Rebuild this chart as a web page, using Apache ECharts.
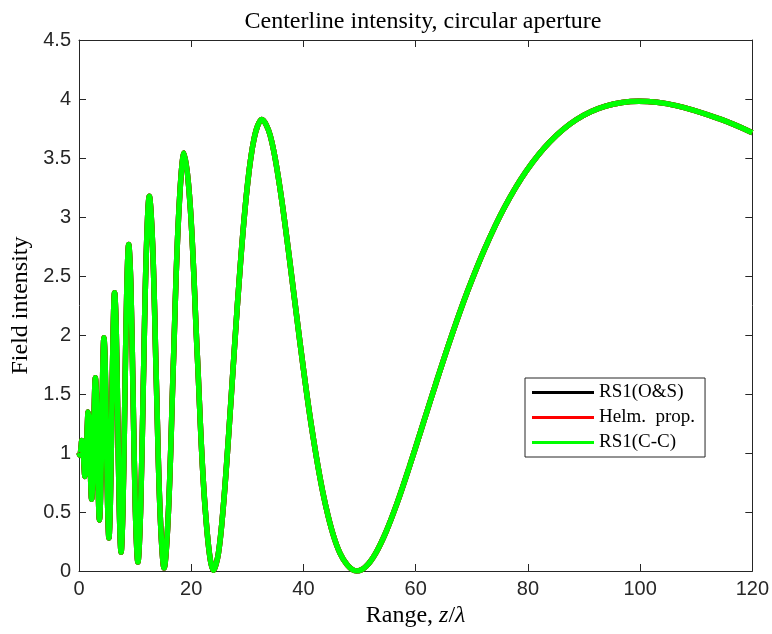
<!DOCTYPE html>
<html>
<head>
<meta charset="utf-8">
<script src="https://cdn.jsdelivr.net/npm/echarts@6/dist/echarts.min.js"></script>
<style>html,body{margin:0;padding:0;background:#fff}#c{width:772px;height:634px}</style>
</head>
<body>
<div id="c"></div>
<script>
// Range z/lambda
var rangeZ = [0,0.126,0.253,0.382,0.513,0.646,0.780,0.917,1.056,1.196,1.339,1.485,1.632,1.783,1.936,2.091,2.25,2.412,2.577,2.745,2.917,3.092,3.272,3.455,3.643,3.835,4.032,4.235,4.442,4.656,4.875,5.101,5.333,5.573,5.821,6.076,6.341,6.615,6.899,7.194,7.5,7.819,8.151,8.498,8.861,9.241,9.640,10.059,10.5,10.966,11.458,11.981,12.536,13.127,13.760,14.438,15.167,15.954,16.807,17.735,18.75,19.865,21.097,22.467,24.0,24.838,25.729,26.680,27.696,28.786,29.957,31.219,32.583,34.064,35.676,37.439,39.375,41.512,43.882,46.528,49.5,51.129,52.865,54.719,56.705,58.837,61.132,63.609,66.292,69.206,72.384,75.862,79.688,83.914,88.608,93.852,99.75,106.432,114.067,120];
// Field intensity, same curve for the three methods (they overlap)
var intensityRS1 = [1,0.982,1.001,1.056,1.105,1.095,1.006,0.879,0.801,0.846,1.018,1.229,1.348,1.279,1.036,0.752,0.609,0.723,1.062,1.444,1.638,1.505,1.097,0.645,0.433,0.622,1.140,1.704,1.977,1.775,1.192,0.564,0.280,0.549,1.253,2.004,2.358,2.085,1.323,0.515,0.160,0.508,1.399,2.335,2.766,2.420,1.482,0.500,0.076,0.501,1.568,2.675,3.175,2.758,1.654,0.513,0.027,0.520,1.739,2.991,3.543,3.061,1.817,0.543,0.006,0.147,0.551,1.160,1.885,2.615,3.241,3.667,3.826,3.694,3.289,2.673,1.939,1.201,0.572,0.149,0.000,0.038,0.150,0.332,0.577,0.877,1.219,1.590,1.978,2.366,2.739,3.085,3.388,3.637,3.824,3.939,3.980,3.944,3.833,3.715];
var intensityHelm = intensityRS1.slice();
var intensityCC = intensityRS1.slice();
var seriesNames = ['RS1(O&S)', 'Helm.  prop.', 'RS1(C-C)'];
var seriesColors = ['#000000', '#ff0000', '#00ff00'];

function pairs(xs, ys) { return xs.map(function (x, i) { return [x, ys[i]]; }); }

var chart = echarts.init(document.getElementById('c'), null, {renderer: 'canvas'});
var axisCol = '#262626';
var serif = '"Liberation Serif", "Times New Roman", serif';
var sans = '"Liberation Sans", Arial, sans-serif';

var allY = [intensityRS1, intensityHelm, intensityCC];
var series = seriesNames.map(function (n, i) {
  return {
    name: n, type: 'line', data: pairs(rangeZ, allY[i]),
    xAxisIndex: 0, yAxisIndex: 0, showSymbol: false, smooth: 0.35,
    lineStyle: {color: seriesColors[i], width: 5.5}, itemStyle: {color: seriesColors[i]},
    animation: false, z: 2 + i
  };
});

chart.setOption({
  animation: false,
  backgroundColor: '#ffffff',
  title: {
    text: 'Centerline intensity, circular aperture',
    left: 418, textAlign: 'center', top: 5,
    textStyle: {fontFamily: serif, fontWeight: 'normal', fontSize: 24, color: '#000'}
  },
  grid: {left: 79, right: 16, top: 40, bottom: 63, containLabel: false},
  legend: {
    data: seriesNames, orient: 'vertical', left: 525, top: 378,
    backgroundColor: '#ffffff', borderColor: axisCol, borderWidth: 1, borderRadius: 0,
    padding: [5, 10, 5, 7], itemWidth: 62, itemHeight: 3, itemGap: 6, icon: 'rect',
    textStyle: {fontFamily: serif, fontSize: 19, color: '#000', lineHeight: 18}
  },
  xAxis: [{
    type: 'value', min: 0, max: 120, interval: 20, position: 'bottom',
    name: '{a|Range, }{i|z}{a|/}{i|λ}', nameLocation: 'middle', nameGap: 33,
    nameTextStyle: {rich: {
      a: {fontFamily: serif, fontSize: 24, color: '#000'},
      i: {fontFamily: serif, fontSize: 24, fontStyle: 'italic', color: '#000'}
    }},
    axisLine: {show: true, onZero: false, lineStyle: {color: axisCol, width: 1}},
    axisTick: {show: true, inside: true, length: 7, lineStyle: {color: axisCol}},
    axisLabel: {fontFamily: sans, fontSize: 20, color: axisCol, margin: 8},
    splitLine: {show: false}
  }, {
    type: 'value', min: 0, max: 120, interval: 20, position: 'top',
    axisLine: {show: true, onZero: false, lineStyle: {color: axisCol, width: 1}},
    axisTick: {show: true, inside: true, length: 7, lineStyle: {color: axisCol}},
    axisLabel: {show: false}, splitLine: {show: false}
  }],
  yAxis: [{
    type: 'value', min: 0, max: 4.5, interval: 0.5, position: 'left',
    name: 'Field intensity', nameLocation: 'middle', nameGap: 46,
    nameTextStyle: {fontFamily: serif, fontSize: 24, color: '#000'},
    axisLine: {show: true, onZero: false, lineStyle: {color: axisCol, width: 1}},
    axisTick: {show: true, inside: true, length: 7, lineStyle: {color: axisCol}},
    axisLabel: {fontFamily: sans, fontSize: 20, color: axisCol, margin: 8},
    splitLine: {show: false}
  }, {
    type: 'value', min: 0, max: 4.5, interval: 0.5, position: 'right',
    axisLine: {show: true, onZero: false, lineStyle: {color: axisCol, width: 1}},
    axisTick: {show: true, inside: true, length: 7, lineStyle: {color: axisCol}},
    axisLabel: {show: false}, splitLine: {show: false}
  }],
  series: series
});
</script>
</body>
</html>
